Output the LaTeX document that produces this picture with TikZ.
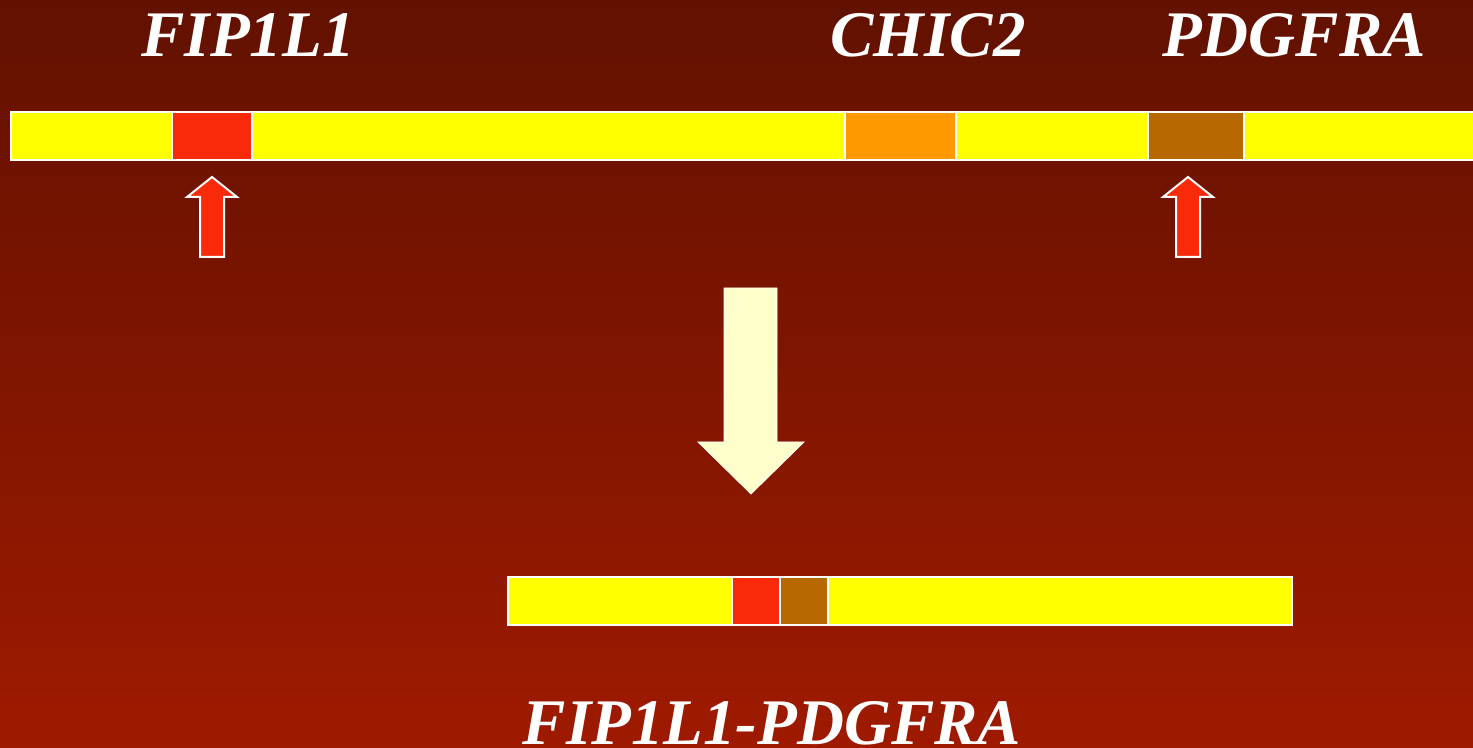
\documentclass[tikz,border=0pt]{standalone}
\usepackage{fontspec}
\setmainfont{Liberation Serif}
\definecolor{bgtop}{RGB}{98,17,0}
\definecolor{bgbot}{RGB}{158,26,0}
\definecolor{segyellow}{RGB}{255,255,0}
\definecolor{segred}{RGB}{248,42,10}
\definecolor{segorange}{RGB}{255,153,0}
\definecolor{segbrown}{RGB}{184,104,0}
\definecolor{cream}{RGB}{255,255,204}
\tikzset{
  seg/.style={draw=white, line width=1pt},
  genelabel/.style={text=white, font=\fontsize{32.5}{36}\selectfont\bfseries\itshape, inner sep=0pt, anchor=base},
  uparrow/.style={fill=segred, draw=white, line width=1pt, line join=miter},
  bigarrow/.style={fill=cream, draw=white, line width=0.4pt, line join=miter}
}
\begin{document}
\begin{tikzpicture}[x=0.5pt,y=-0.5pt]
\shade[top color=bgtop, bottom color=bgbot] (0,0) rectangle (1473,748);
\useasboundingbox (0,0) rectangle (1473,748);
% top chromosome bar
\draw[seg, fill=segyellow] (11,112) rectangle (172,160);
\draw[seg, fill=segred] (172,112) rectangle (252,160);
\draw[seg, fill=segyellow] (252,112) rectangle (845,160);
\draw[seg, fill=segorange] (845,112) rectangle (956,160);
\draw[seg, fill=segyellow] (956,112) rectangle (1148,160);
\draw[seg, fill=segbrown] (1148,112) rectangle (1244,160);
\draw[seg, fill=segyellow] (1244,112) rectangle (1480,160);
% breakpoint arrows
\draw[uparrow] (212,177) -- (237,197) -- (224,197) -- (224,257) -- (200,257) -- (200,197) -- (187,197) -- cycle;
\draw[uparrow] (1188,177) -- (1213,197) -- (1200,197) -- (1200,257) -- (1176,257) -- (1176,197) -- (1163,197) -- cycle;
% big down arrow
\draw[bigarrow] (724,288) -- (777,288) -- (777,442) -- (804,442) -- (751,494) -- (698,442) -- (724,442) -- cycle;
% fusion bar
\draw[seg, fill=segyellow] (508,577) rectangle (732,625);
\draw[seg, fill=segred] (732,577) rectangle (780,625);
\draw[seg, fill=segbrown] (780,577) rectangle (828,625);
\draw[seg, fill=segyellow] (828,577) rectangle (1292,625);
% labels
\node[genelabel] (fip) at (248,57) {FIP1L1};
\node[genelabel] (chic) at (928,57) {CHIC2};
\node[genelabel] (pdg) at (1294,57) {PDGFRA};
\node[genelabel] (fus) at (772,744) {FIP1L1-PDGFRA};
\end{tikzpicture}
\end{document}
